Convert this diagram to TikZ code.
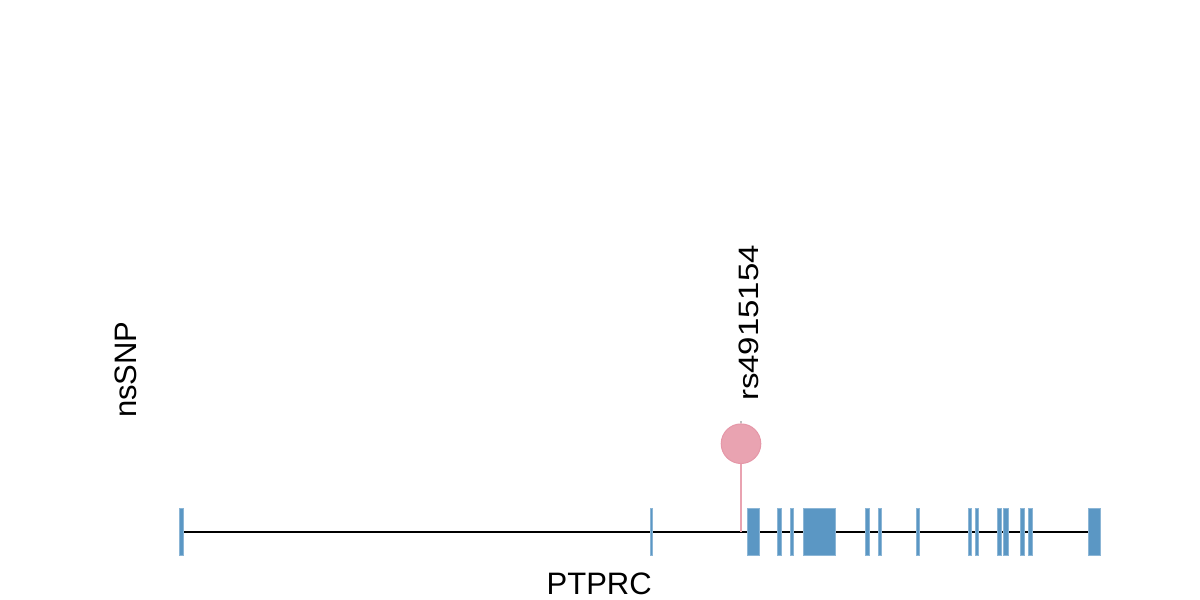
\documentclass[tikz,border=0pt]{standalone}
\usepackage{fontspec}
\setmainfont{Liberation Sans}
\usepackage{xcolor}
\definecolor{exonblue}{HTML}{5B97C4}
\definecolor{snppink}{HTML}{E9A3B1}
\definecolor{snpedge}{HTML}{E597A8}

\begin{document}
\begin{tikzpicture}[x=0.5pt,y=-0.5pt,
 every node/.style={font=\fontsize{15.5pt}{18pt}\selectfont,inner sep=0pt},
 exon/.style={fill=exonblue,draw=exonblue!70,line width=0.3pt},
 snpdot/.style={circle,fill=snppink,draw=snpedge,line width=0.5pt,minimum size=19.8pt}]
    \useasboundingbox (0,0) rectangle (1200,600);
    % gene backbone
    \coordinate (gstart) at (179,531.7);
    \coordinate (gend) at (1100.7,531.7);
    \draw[line width=1.1pt] (gstart) -- (gend);
    % exons
    \foreach \l/\r in {179/183.3,650/652.7,747.3/759.7,777.7/781.3,790/793,
        803.7/835.3,865.7/869,878/881.7,916.3/919,968.7/971.7,975.7/978,
        997.7/1001,1003.7/1008,1020.3/1024.7,1028.7/1032,1088.7/1100.7}
        \fill[exon] (\l,508.7) rectangle (\r,555);
    % nsSNP lollipop
    \coordinate (snp) at (741,531.7);
    \node[snpdot] (dot) at (741,443.7) {};
    \coordinate (tick) at (741,421);
    \draw[snppink,line width=0.9pt] (snp) -- (dot);
    \draw[gray!50,line width=0.6pt] (dot.north) -- (tick);
    \node[rotate=90,anchor=base] (rsid) at (758.7,322.9)
        {\scalebox{1}[0.85]{\fontsize{16.5pt}{18pt}\selectfont rs4915154}};
    % labels
    \node[rotate=90,anchor=base] (track) at (136.7,369.7) {nsSNP};
    \node[anchor=base,text depth=0pt] (gene) at (599.2,594.5) {PTPRC};
\end{tikzpicture}
\end{document}
